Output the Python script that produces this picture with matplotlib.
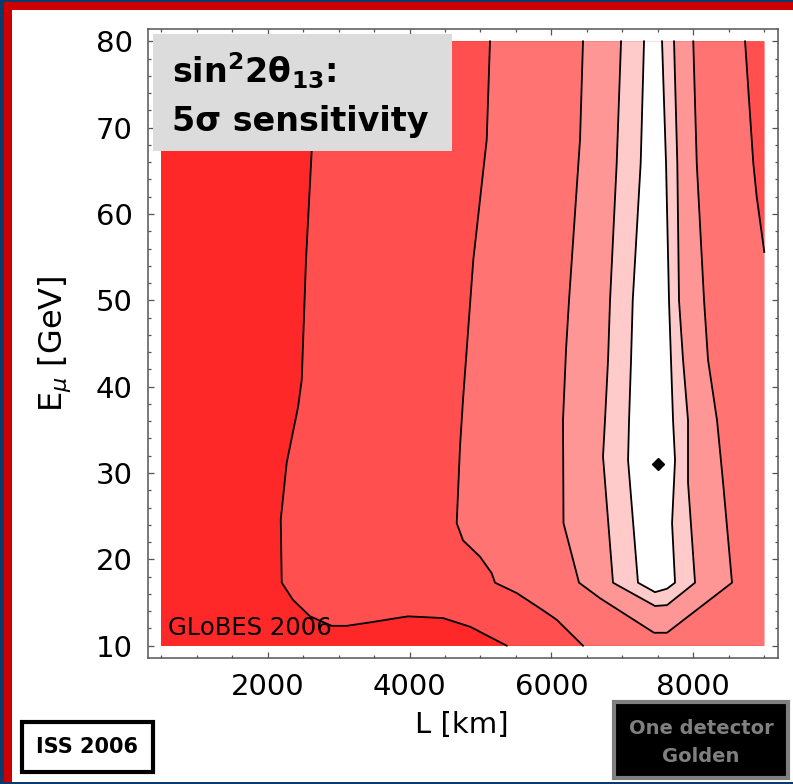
import numpy as np
import matplotlib.pyplot as plt
from matplotlib.patches import Rectangle
from matplotlib.ticker import MultipleLocator

# extent of the (L, E_mu) scan
L_range = [500, 9000]
E_range = [10, 80]

# iso-sensitivity lines, (L [km], E_mu [GeV]), traced from the top edge
c1_L = [2640, 2621, 2541, 2481, 2428, 2269, 2185, 2199, 2358, 2598, 2903, 3115, 3443, 3979, 4472, 4853, 5370]
c1_E = [80, 67.3, 54.7, 40.8, 37.6, 31.2, 24.6, 17.3, 15.3, 13.4, 12.3, 12.3, 12.7, 13.4, 13.2, 12.2, 10]
c2_L = [5134, 5088, 4899, 4754, 4712, 4665, 4754, 4994, 5158, 5205, 5511, 5881, 6075, 6445]
c2_E = [80, 68.6, 54.7, 38.5, 33.1, 24.2, 22.2, 20.3, 18.4, 17.3, 16.1, 14.1, 13.0, 10]
c6_L = [8729, 8845, 8893, 9000]
c6_E = [80, 65.9, 62.0, 55.6]
# the three tongues around the magic baseline
c3_L = [6445, 6403, 6248, 6206, 6163, 6170, 6389, 6685, 7446, 7629, 8545, 8419, 8334, 8207, 8151, 8048, 7999]
c3_E = [80, 68.6, 50.0, 44.3, 36.1, 24.2, 17.3, 15.5, 11.5, 11.5, 17.3, 28.9, 36.1, 43.1, 50.0, 65.9, 80]
c4_L = [6981, 6920, 6826, 6798, 6755, 6727, 6868, 7460, 7629, 8024, 7925, 7925, 7855, 7798, 7774, 7728]
c4_E = [80, 65.9, 50.0, 43.1, 36.1, 31.9, 17.3, 14.6, 14.7, 17.3, 28.9, 36.1, 43.1, 50.0, 65.9, 80]
c5_L = [7305, 7258, 7146, 7122, 7094, 7080, 7220, 7460, 7629, 7742, 7700, 7742, 7714, 7685, 7657, 7615, 7559]
c5_E = [80, 65.9, 50.0, 43.1, 36.1, 31.5, 17.3, 16.2, 16.6, 17.3, 24.2, 31.5, 36.1, 43.1, 50.0, 65.9, 80]

# optimum
best_L = 7500
best_E = 31

shades = ['#ff2828', '#ff4f4f', '#ff7373', '#ff9696', '#ffcaca', '#ffffff']

W, H = 793, 784
fig = plt.figure(figsize=(W / 100, H / 100), dpi=100)
fig.patch.set_facecolor('white')


def px_rect(x, y, w, h, **kw):
    # rectangle given in pixels from the top-left corner
    r = Rectangle((x / W, 1 - (y + h) / H), w / W, h / H, transform=fig.transFigure, **kw)
    fig.add_artist(r)
    return r


# slide frame
px_rect(0, 0, 4, H, facecolor='#0b3b6c', edgecolor='none')
px_rect(0, 0, W, 2, facecolor='#0b3b6c', edgecolor='none')
px_rect(0, H - 2, W, 2, facecolor='#0b3b6c', edgecolor='none')
px_rect(4, 2, 8, H - 4, facecolor='#cc0000', edgecolor='none')
px_rect(4, 2, W - 4, 8, facecolor='#cc0000', edgecolor='none')

ax = fig.add_axes([148 / W, 1 - 657.7 / H, 629.7 / W, 628.7 / H])

L0, L1 = L_range
E0, E1 = E_range
ax.fill([L0, L1, L1, L0], [E0, E0, E1, E1], color=shades[0], lw=0)
ax.fill(c1_L + [L1, L1], c1_E + [E0, E1], color=shades[1], lw=0)
ax.fill(c2_L + [L1, L1], c2_E + [E0, E1], color=shades[2], lw=0)
ax.fill(c3_L, c3_E, color=shades[3], lw=0)
ax.fill(c4_L, c4_E, color=shades[4], lw=0)
ax.fill(c5_L, c5_E, color=shades[5], lw=0)
ax.fill(c6_L + [L1], c6_E + [E1], color=shades[1], lw=0)

for xs, ys in [(c1_L, c1_E), (c2_L, c2_E), (c3_L, c3_E), (c4_L, c4_E), (c5_L, c5_E), (c6_L, c6_E)]:
    ax.plot(xs, ys, color='black', lw=1.3)

ax.plot(best_L, best_E, marker='D', color='black', ms=6)

ax.set_xlim(314, 9189)
ax.set_ylim(8.61, 81.43)
ax.xaxis.set_major_locator(MultipleLocator(2000))
ax.xaxis.set_minor_locator(MultipleLocator(500))
ax.yaxis.set_major_locator(MultipleLocator(10))
ax.yaxis.set_minor_locator(MultipleLocator(2))
ax.tick_params(which='both', direction='in', top=True, right=True, colors='#555555', width=0.9,
               labelcolor='black', labelsize=21, pad=11)
ax.tick_params(which='major', length=4)
ax.tick_params(which='minor', length=2)
for sp in ax.spines.values():
    sp.set_color('#555555')
    sp.set_linewidth(1.1)

ax.set_xlabel('L [km]', fontsize=21, va='center', ha='center')
ax.xaxis.set_label_coords(0.498, -0.107)
ax.set_ylabel(r'E$_\mu$ [GeV]', fontsize=23, va='center', ha='center')
ax.yaxis.set_label_coords(-0.148, 0.5)

# title panel
ax.add_patch(Rectangle((0.0079, 0.806), 0.4749, 0.186, transform=ax.transAxes,
                       facecolor='#dcdcdc', edgecolor='none', zorder=5))
ax.text(0.038, 0.914, r'$\mathbf{sin^{2}2θ_{13}}$:', transform=ax.transAxes, fontsize=24,
        fontweight='bold', va='baseline', ha='left', zorder=6)
ax.text(0.038, 0.838, '5σ sensitivity', transform=ax.transAxes, fontsize=24,
        fontweight='bold', va='baseline', ha='left', zorder=6)

ax.text(0.032, 0.036, 'GLoBES 2006', transform=ax.transAxes, fontsize=17.5,
        va='baseline', ha='left', zorder=6)

# corner tags
px_rect(22, 722, 131, 50, facecolor='white', edgecolor='black', lw=3)
fig.text(87.5 / W, 1 - 747 / H, 'ISS 2006', fontsize=15, fontweight='bold', ha='center', va='center')
px_rect(614, 702, 174, 76, facecolor='black', edgecolor='#7f7f7f', lw=3)
fig.text(701 / W, 1 - 728 / H, 'One detector', fontsize=14, fontweight='bold', color='#808080',
         ha='center', va='center')
fig.text(701 / W, 1 - 756 / H, 'Golden', fontsize=14, fontweight='bold', color='#808080',
         ha='center', va='center')

fig.savefig('out.png', dpi=100)
